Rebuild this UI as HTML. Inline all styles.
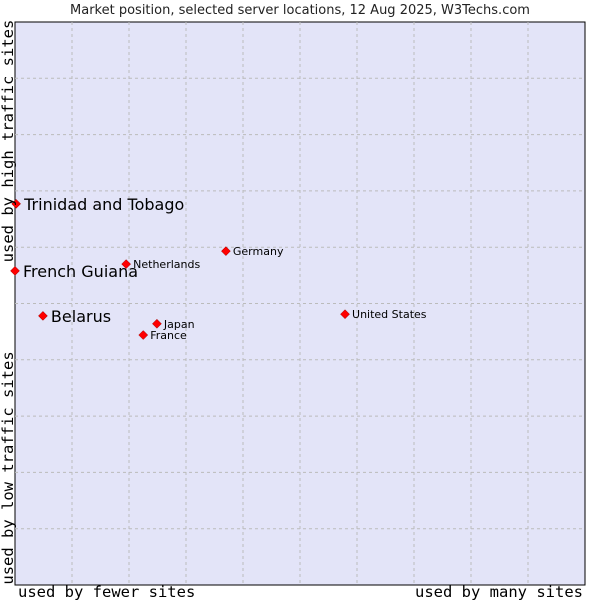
<!DOCTYPE html>
<html><head><meta charset="utf-8"><style>
body{margin:0;background:#fff;width:600px;height:600px;overflow:hidden}
</style></head><body>
<svg width="600" height="600" xmlns="http://www.w3.org/2000/svg">
<text x="300" y="14" text-anchor="middle" font-family="DejaVu Sans, sans-serif" font-size="13" fill="#222">Market position, selected server locations, 12 Aug 2025, W3Techs.com</text>
<rect x="15" y="22" width="570" height="563" fill="#e3e4f8" stroke="#000" stroke-width="1"/>
<g id="grid"></g>
<g id="pts"></g>
<text x="18" y="597" font-family="DejaVu Sans Mono, Liberation Mono, monospace" font-size="15.5" fill="#000">used by fewer sites</text>
<text x="583" y="597" text-anchor="end" font-family="DejaVu Sans Mono, Liberation Mono, monospace" font-size="15.5" fill="#000">used by many sites</text>
<text transform="translate(13,141) rotate(-90)" text-anchor="middle" font-family="DejaVu Sans Mono, Liberation Mono, monospace" font-size="15.5" fill="#000">used by high traffic sites</text>
<text transform="translate(13,468) rotate(-90)" text-anchor="middle" font-family="DejaVu Sans Mono, Liberation Mono, monospace" font-size="15.5" fill="#000">used by low traffic sites</text>
</svg>
<script>
const names=["Trinidad and Tobago","French Guiana","Belarus","Netherlands","Germany","Japan","France","United States"];
const xs=[0.2,0,4.9,19.5,37,24.9,22.5,57.9];
const ys=[67.7,55.8,47.8,57,59.3,46.4,44.4,48.1];
const big=[true,true,true,false,false,false,false,false];
const NS="http://www.w3.org/2000/svg";
const L=15,R=585,T=22,B=585;
function sx(v){return L+v/100*(R-L);}
function sy(v){return B-v/100*(B-T);}
const grid=document.getElementById('grid');
for(let i=1;i<10;i++){
 const v=document.createElementNS(NS,'line');
 v.setAttribute('x1',sx(i*10));v.setAttribute('x2',sx(i*10));v.setAttribute('y1',T);v.setAttribute('y2',B);
 v.setAttribute('stroke','#bbb');v.setAttribute('stroke-dasharray','3,3');
 
 
 grid.appendChild(v);
 const h=document.createElementNS(NS,'line');
 h.setAttribute('y1',sy(i*10));h.setAttribute('y2',sy(i*10));h.setAttribute('x1',L);h.setAttribute('x2',R);
 h.setAttribute('stroke','#bbb');h.setAttribute('stroke-dasharray','3,3');
 
 
 grid.appendChild(h);
}
const pts=document.getElementById('pts');
names.forEach((n,i)=>{
 const x=sx(xs[i]),y=sy(ys[i]);
 const d=document.createElementNS(NS,'path');
 d.setAttribute('d',`M${x} ${y-4.5}L${x+4.5} ${y}L${x} ${y+4.5}L${x-4.5} ${y}Z`);
 d.setAttribute('fill','#f00');d.setAttribute('stroke','#900');d.setAttribute('stroke-width','0.5');
 
 
 pts.appendChild(d);
 const t=document.createElementNS(NS,'text');
 t.setAttribute('x',x+(big[i]?8:7));t.setAttribute('y',y+(big[i]?6:4));
 t.setAttribute('font-family','DejaVu Sans, sans-serif');
 t.setAttribute('font-size',big[i]?'16':'11');
 t.setAttribute('fill','#000');
 t.textContent=n;
 
 
 pts.appendChild(t);
});
</script>
</body></html>
